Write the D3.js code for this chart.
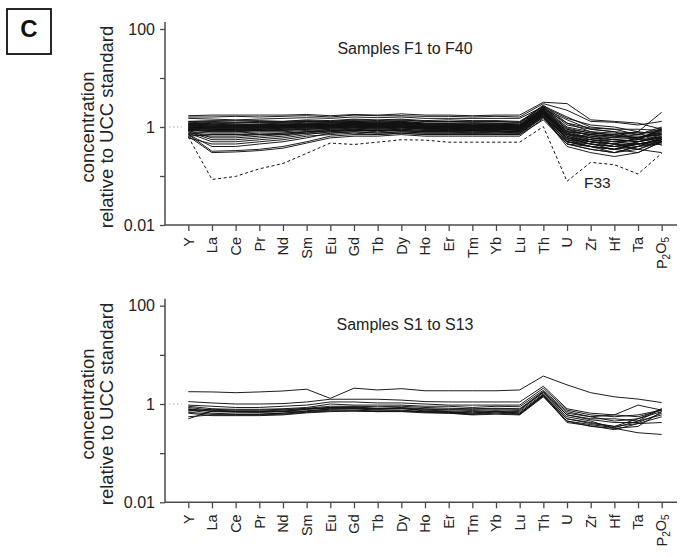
<!DOCTYPE html>
<html>
<head>
<meta charset="utf-8">
<script src="https://cdn.jsdelivr.net/npm/d3@7"></script>
<style>
  html, body { margin: 0; padding: 0; background: #fff; }
  svg { display: block; font-family: "Liberation Sans", Arial, Helvetica, sans-serif; }
</style>
</head>
<body>
<svg id="chart" width="685" height="557"></svg>
<script>
// Element order along the x axis
const elements = ["Y","La","Ce","Pr","Nd","Sm","Eu","Gd","Tb","Dy","Ho","Er","Tm","Yb","Lu","Th","U","Zr","Hf","Ta","P2O5"];

// Decade ticks and the ones that carry a label
const yTicks = [100, 10, 1, 0.1, 0.01];
const yTickLabels = {100: "100", 1: "1", 0.01: "0.01"};

// Samples F1–F40, UCC-normalised concentrations (F33 kept separately, dashed)
const samplesF = [
  [1.7,1.75,1.75,1.75,1.75,1.8,1.7,1.8,1.75,1.85,1.75,1.75,1.7,1.75,1.75,3.2,3.0,1.4,1.3,1.2,0.9],
  [1.6,1.6,1.65,1.6,1.65,1.7,1.6,1.75,1.7,1.7,1.65,1.65,1.6,1.65,1.6,3.0,2.2,1.3,1.25,1.1,1.3],
  [1.5,1.45,1.4,1.45,1.5,1.55,1.5,1.6,1.55,1.6,1.5,1.5,1.5,1.5,1.5,2.6,1.5,1.1,1.0,0.8,2.0],
  [1.3,1.35,1.35,1.35,1.3,1.4,1.35,1.45,1.4,1.45,1.35,1.4,1.35,1.35,1.3,2.6,1.1,0.9,0.8,0.75,0.8],
  [1.25,1.2,1.2,1.25,1.25,1.3,1.3,1.35,1.3,1.35,1.3,1.3,1.25,1.3,1.25,2.4,0.9,0.75,0.7,0.8,0.7],
  [1.2,1.15,1.1,1.15,1.2,1.25,1.25,1.3,1.25,1.3,1.2,1.2,1.2,1.2,1.15,2.5,1.0,0.8,0.65,0.6,0.75],
  [1.15,1.1,1.1,1.1,1.1,1.15,1.2,1.25,1.2,1.25,1.15,1.15,1.1,1.15,1.1,2.3,0.8,0.7,0.6,0.7,0.9],
  [1.1,1.05,1.05,1.05,1.1,1.1,1.15,1.2,1.15,1.2,1.1,1.1,1.05,1.1,1.05,2.2,0.75,0.6,0.55,0.5,0.65],
  [1.05,1.0,1.0,1.0,1.05,1.1,1.1,1.15,1.1,1.15,1.05,1.05,1.0,1.05,1.0,2.1,0.7,0.55,0.5,0.55,0.6],
  [1.0,0.95,0.95,1.0,1.0,1.05,1.05,1.1,1.05,1.1,1.0,1.0,1.0,1.0,0.95,2.0,0.65,0.5,0.45,0.6,0.8],
  [0.95,0.9,0.9,0.95,0.95,1.0,1.0,1.05,1.0,1.05,0.95,0.95,0.95,0.95,0.9,1.9,0.6,0.55,0.45,0.45,0.55],
  [0.9,0.85,0.85,0.9,0.9,0.95,1.0,1.0,0.95,1.0,0.95,0.9,0.9,0.9,0.9,1.85,0.6,0.45,0.4,0.5,0.7],
  [0.9,0.95,0.95,0.95,1.0,1.0,1.05,1.05,1.0,1.05,1.0,1.0,0.95,1.0,0.95,2.2,0.85,0.7,0.65,0.65,0.6],
  [0.85,0.8,0.8,0.85,0.85,0.9,0.95,0.95,0.9,0.95,0.9,0.9,0.85,0.9,0.85,1.8,0.55,0.45,0.4,0.45,0.5],
  [1.1,1.2,1.15,1.15,1.15,1.15,1.1,1.2,1.15,1.2,1.1,1.1,1.1,1.1,1.05,2.4,1.2,0.95,0.9,0.7,0.65],
  [1.0,1.05,1.05,1.05,1.05,1.1,1.1,1.15,1.1,1.1,1.05,1.05,1.05,1.05,1.0,2.3,0.9,0.65,0.55,0.6,0.75],
  [0.95,1.0,1.0,1.0,1.0,1.05,1.05,1.1,1.05,1.05,1.0,1.0,1.0,1.0,0.95,2.1,0.8,0.6,0.55,0.5,0.6],
  [1.2,1.1,1.05,1.1,1.1,1.15,1.15,1.2,1.15,1.2,1.15,1.15,1.1,1.15,1.1,2.3,0.7,0.6,0.5,0.45,0.55],
  [0.8,0.75,0.75,0.8,0.8,0.85,0.9,0.9,0.85,0.9,0.85,0.85,0.85,0.85,0.8,1.7,0.5,0.4,0.35,0.4,0.45],
  [0.75,0.7,0.7,0.75,0.75,0.8,0.85,0.85,0.85,0.85,0.8,0.8,0.8,0.8,0.8,1.8,0.55,0.4,0.35,0.3,0.5],
  [1.05,1.1,1.1,1.1,1.15,1.2,1.2,1.25,1.2,1.25,1.15,1.15,1.15,1.15,1.1,2.5,0.95,0.75,0.7,0.6,0.5],
  [1.15,1.25,1.25,1.25,1.25,1.3,1.25,1.3,1.25,1.3,1.2,1.2,1.2,1.2,1.2,2.7,1.6,1.0,0.9,0.9,0.85],
  [0.9,0.9,0.9,0.9,0.95,0.95,1.0,1.0,1.0,1.0,0.95,0.95,0.9,0.95,0.9,2.0,0.75,0.55,0.5,0.55,0.95],
  [1.0,0.9,0.9,0.9,0.95,1.0,1.05,1.1,1.05,1.1,1.0,1.0,1.0,1.0,1.0,2.1,0.6,0.5,0.45,0.4,0.6],
  [0.85,0.85,0.85,0.85,0.9,0.9,0.95,1.0,0.95,1.0,0.9,0.9,0.9,0.9,0.85,1.9,0.65,0.5,0.45,0.6,0.85],
  [1.3,1.3,1.25,1.3,1.3,1.35,1.3,1.4,1.35,1.4,1.3,1.3,1.3,1.3,1.25,2.8,1.2,0.8,0.75,0.7,1.0],
  [0.95,0.95,0.95,0.95,1.0,1.0,1.0,1.05,1.0,1.05,1.0,1.0,0.95,1.0,0.95,2.0,0.7,0.65,0.6,0.6,0.7],
  [1.1,1.0,1.0,1.0,1.05,1.05,1.1,1.15,1.1,1.15,1.05,1.05,1.05,1.05,1.05,2.2,0.8,0.7,0.65,0.8,0.42],
  [0.9,0.8,0.8,0.85,0.85,0.9,0.95,1.0,0.95,1.0,0.95,0.95,0.9,0.95,0.9,1.9,0.55,0.5,0.4,0.35,0.3],
  [1.0,1.0,1.0,1.05,1.05,1.1,1.05,1.15,1.1,1.15,1.05,1.05,1.05,1.05,1.0,2.4,1.4,0.9,0.8,0.55,0.9],
  [0.8,0.55,0.55,0.6,0.65,0.75,0.85,0.9,0.85,0.9,0.85,0.85,0.85,0.85,0.8,1.8,0.6,0.45,0.4,0.45,0.55],
  [0.75,0.5,0.5,0.55,0.6,0.7,0.8,0.85,0.85,0.85,0.8,0.8,0.8,0.8,0.8,1.7,0.5,0.4,0.35,0.5,0.6],
  [0.7,0.4,0.4,0.45,0.5,0.6,0.75,0.8,0.75,0.8,0.75,0.75,0.75,0.75,0.75,1.6,0.45,0.35,0.3,0.35,0.5],
  [0.7,0.32,0.33,0.35,0.4,0.5,0.65,0.7,0.7,0.75,0.7,0.7,0.7,0.7,0.7,1.6,0.4,0.3,0.25,0.3,0.5],
  [0.65,0.3,0.31,0.33,0.37,0.47,0.6,0.65,0.65,0.7,0.65,0.65,0.65,0.65,0.65,1.5,0.45,0.35,0.3,0.4,0.6],
  [0.85,0.6,0.6,0.65,0.7,0.8,0.9,0.95,0.9,0.95,0.9,0.9,0.9,0.9,0.85,2.0,0.7,0.5,0.45,0.35,0.55],
  [0.6,0.45,0.45,0.5,0.55,0.65,0.7,0.75,0.7,0.75,0.7,0.7,0.7,0.7,0.7,1.4,0.45,0.4,0.35,0.45,0.45],
  [0.7,0.65,0.65,0.7,0.7,0.75,0.75,0.8,0.75,0.8,0.75,0.75,0.75,0.75,0.75,1.6,0.5,0.4,0.3,0.4,0.5],
  [0.65,0.7,0.7,0.7,0.75,0.8,0.8,0.85,0.8,0.85,0.8,0.8,0.75,0.8,0.75,1.7,0.5,0.45,0.35,0.45,0.55]
];
const sampleF33 = [0.63,0.085,0.098,0.14,0.18,0.29,0.47,0.44,0.49,0.55,0.54,0.49,0.49,0.49,0.49,1.02,0.078,0.19,0.17,0.11,0.29];

// Samples S1–S13
const samplesS = [
  [1.78,1.76,1.7,1.76,1.84,2.0,1.3,2.1,1.93,2.05,1.86,1.86,1.86,1.86,1.93,3.7,2.45,1.7,1.4,1.26,1.07],
  [1.12,1.05,1.0,1.0,1.02,1.1,1.25,1.25,1.25,1.2,1.12,1.1,1.1,1.1,1.1,2.3,0.8,0.65,0.6,0.55,0.75],
  [0.95,0.9,0.85,0.85,0.9,0.95,1.1,1.1,1.05,1.05,1.0,0.95,0.95,0.95,0.95,2.1,0.75,0.6,0.55,0.6,0.75],
  [0.9,0.8,0.78,0.78,0.8,0.85,1.0,0.95,0.95,0.95,0.9,0.9,0.85,0.9,0.88,1.9,0.7,0.55,0.6,0.95,0.75],
  [0.85,0.75,0.72,0.72,0.75,0.82,0.9,0.9,0.88,0.9,0.85,0.82,0.8,0.82,0.8,1.8,0.65,0.55,0.45,0.5,0.8],
  [0.8,0.7,0.68,0.68,0.7,0.78,0.85,0.85,0.82,0.85,0.8,0.78,0.78,0.8,0.78,1.7,0.6,0.5,0.5,0.45,0.6],
  [0.75,0.65,0.62,0.62,0.65,0.72,0.8,0.8,0.78,0.8,0.75,0.72,0.7,0.72,0.7,1.6,0.55,0.45,0.32,0.26,0.24],
  [0.72,0.78,0.75,0.75,0.78,0.8,0.85,0.88,0.8,0.82,0.72,0.7,0.65,0.72,0.65,1.55,0.5,0.42,0.35,0.4,0.55],
  [0.5,0.72,0.7,0.68,0.7,0.72,0.78,0.8,0.75,0.75,0.7,0.68,0.62,0.7,0.62,1.5,0.45,0.38,0.33,0.45,0.8],
  [0.55,0.6,0.6,0.6,0.62,0.68,0.72,0.72,0.7,0.72,0.68,0.65,0.62,0.65,0.62,1.45,0.42,0.36,0.3,0.4,0.42],
  [0.68,0.62,0.62,0.62,0.65,0.7,0.75,0.75,0.72,0.72,0.7,0.68,0.66,0.68,0.66,1.5,0.5,0.4,0.35,0.5,0.7],
  [0.65,0.58,0.58,0.58,0.6,0.66,0.7,0.72,0.7,0.7,0.66,0.65,0.6,0.62,0.6,1.4,0.45,0.35,0.32,0.35,0.7],
  [0.78,0.72,0.7,0.7,0.72,0.78,0.82,0.82,0.8,0.82,0.78,0.76,0.74,0.76,0.74,1.75,0.6,0.48,0.42,0.42,0.65]
];

const svg = d3.select("#chart");
const axisColor = "#4a4a4a";
const textColor = "#222";

// Panel label
svg.append("rect").attr("x", 7).attr("y", 9).attr("width", 44).attr("height", 45)
  .attr("fill", "none").attr("stroke", "#111").attr("stroke-width", 1.8);
svg.append("text").attr("x", 29).attr("y", 37).attr("text-anchor", "middle")
  .attr("font-size", 24).attr("font-weight", "bold").attr("fill", "#111").text("C");

const x = d3.scalePoint().domain(elements).range([188.3, 661.7]);

function drawPanel(cfg) {
  const g = svg.append("g");
  const y = d3.scaleLog().domain([0.01, 100]).range([cfg.bottom, cfg.top]);

  // short dotted reference at 1
  g.append("line").attr("x1", 169).attr("x2", 182)
    .attr("y1", y(1)).attr("y2", y(1))
    .attr("stroke", "#aaa").attr("stroke-width", 1).attr("stroke-dasharray", "1.5,2.5");

  // y axis
  const yAxis = d3.axisLeft(y).tickValues(yTicks).tickSize(5).tickPadding(5)
    .tickFormat(d => yTickLabels[d] || "");
  const ya = g.append("g").attr("transform", "translate(165,0)").call(yAxis);
  ya.select(".domain").remove();
  ya.selectAll(".tick line").attr("stroke", axisColor).attr("stroke-width", 1.3);
  ya.selectAll(".tick text").attr("fill", textColor).attr("font-size", 16)
    .attr("font-family", "Liberation Sans, Arial, sans-serif");
  g.append("line").attr("x1", 165).attr("x2", 165).attr("y1", cfg.top - 7).attr("y2", cfg.bottom)
    .attr("stroke", axisColor).attr("stroke-width", 1.5);

  // x axis
  const xAxis = d3.axisBottom(x).tickSize(6).tickFormat("");
  const xa = g.append("g").attr("transform", `translate(0,${cfg.bottom})`).call(xAxis);
  xa.select(".domain").remove();
  xa.selectAll(".tick line").attr("stroke", axisColor).attr("stroke-width", 1.3);
  g.append("line").attr("x1", 165).attr("x2", 677).attr("y1", cfg.bottom).attr("y2", cfg.bottom)
    .attr("stroke", axisColor).attr("stroke-width", 1.5);

  // rotated element labels, reading bottom to top
  elements.forEach(el => {
    const px = x(el), py = cfg.bottom + 12;
    const t = g.append("text")
      .attr("x", px).attr("y", py)
      .attr("transform", `rotate(-90,${px},${py})`)
      .attr("text-anchor", "end").attr("dy", "0.36em")
      .attr("font-size", 14.5).attr("fill", textColor);
    if (el === "P2O5") {
      t.append("tspan").text("P");
      t.append("tspan").attr("font-size", 10).attr("dy", "0.3em").text("2");
      t.append("tspan").attr("dy", "-0.3em").text("O");
      t.append("tspan").attr("font-size", 10).attr("dy", "0.3em").text("5");
    } else {
      t.text(el);
    }
  });

  // axis title
  const tx = g.append("text")
    .attr("transform", `translate(0,${(cfg.top + cfg.bottom) / 2 + 0}) rotate(-90)`)
    .attr("text-anchor", "middle").attr("font-size", 18.5).attr("fill", textColor);
  tx.append("tspan").attr("x", 0).attr("y", 94).text("concentration");
  tx.append("tspan").attr("x", 0).attr("y", 113).text("relative to UCC standard");

  // title
  g.append("text").attr("x", 405).attr("y", cfg.titleY).attr("text-anchor", "middle")
    .attr("font-size", 16).attr("fill", textColor).text(cfg.title);

  const line = d3.line().x((d, i) => x(elements[i])).y(d => y(d));

  g.append("g").selectAll("path").data(cfg.series).join("path")
    .attr("d", line).attr("fill", "none")
    .attr("stroke", "#111").attr("stroke-width", 0.95).attr("stroke-linejoin", "round");

  return {g, y, line};
}

const panelF = drawPanel({top: 29, bottom: 225, title: "Samples F1 to F40", titleY: 54, series: samplesF});
panelF.g.append("path").datum(sampleF33).attr("d", panelF.line).attr("fill", "none")
  .attr("stroke", "#111").attr("stroke-width", 1).attr("stroke-dasharray", "3,2.5");
panelF.g.append("text").attr("x", 584).attr("y", 188).attr("font-size", 15.5)
  .attr("fill", textColor).text("F33");

drawPanel({top: 305.7, bottom: 502.3, title: "Samples S1 to S13", titleY: 330, series: samplesS});
</script>
</body>
</html>
